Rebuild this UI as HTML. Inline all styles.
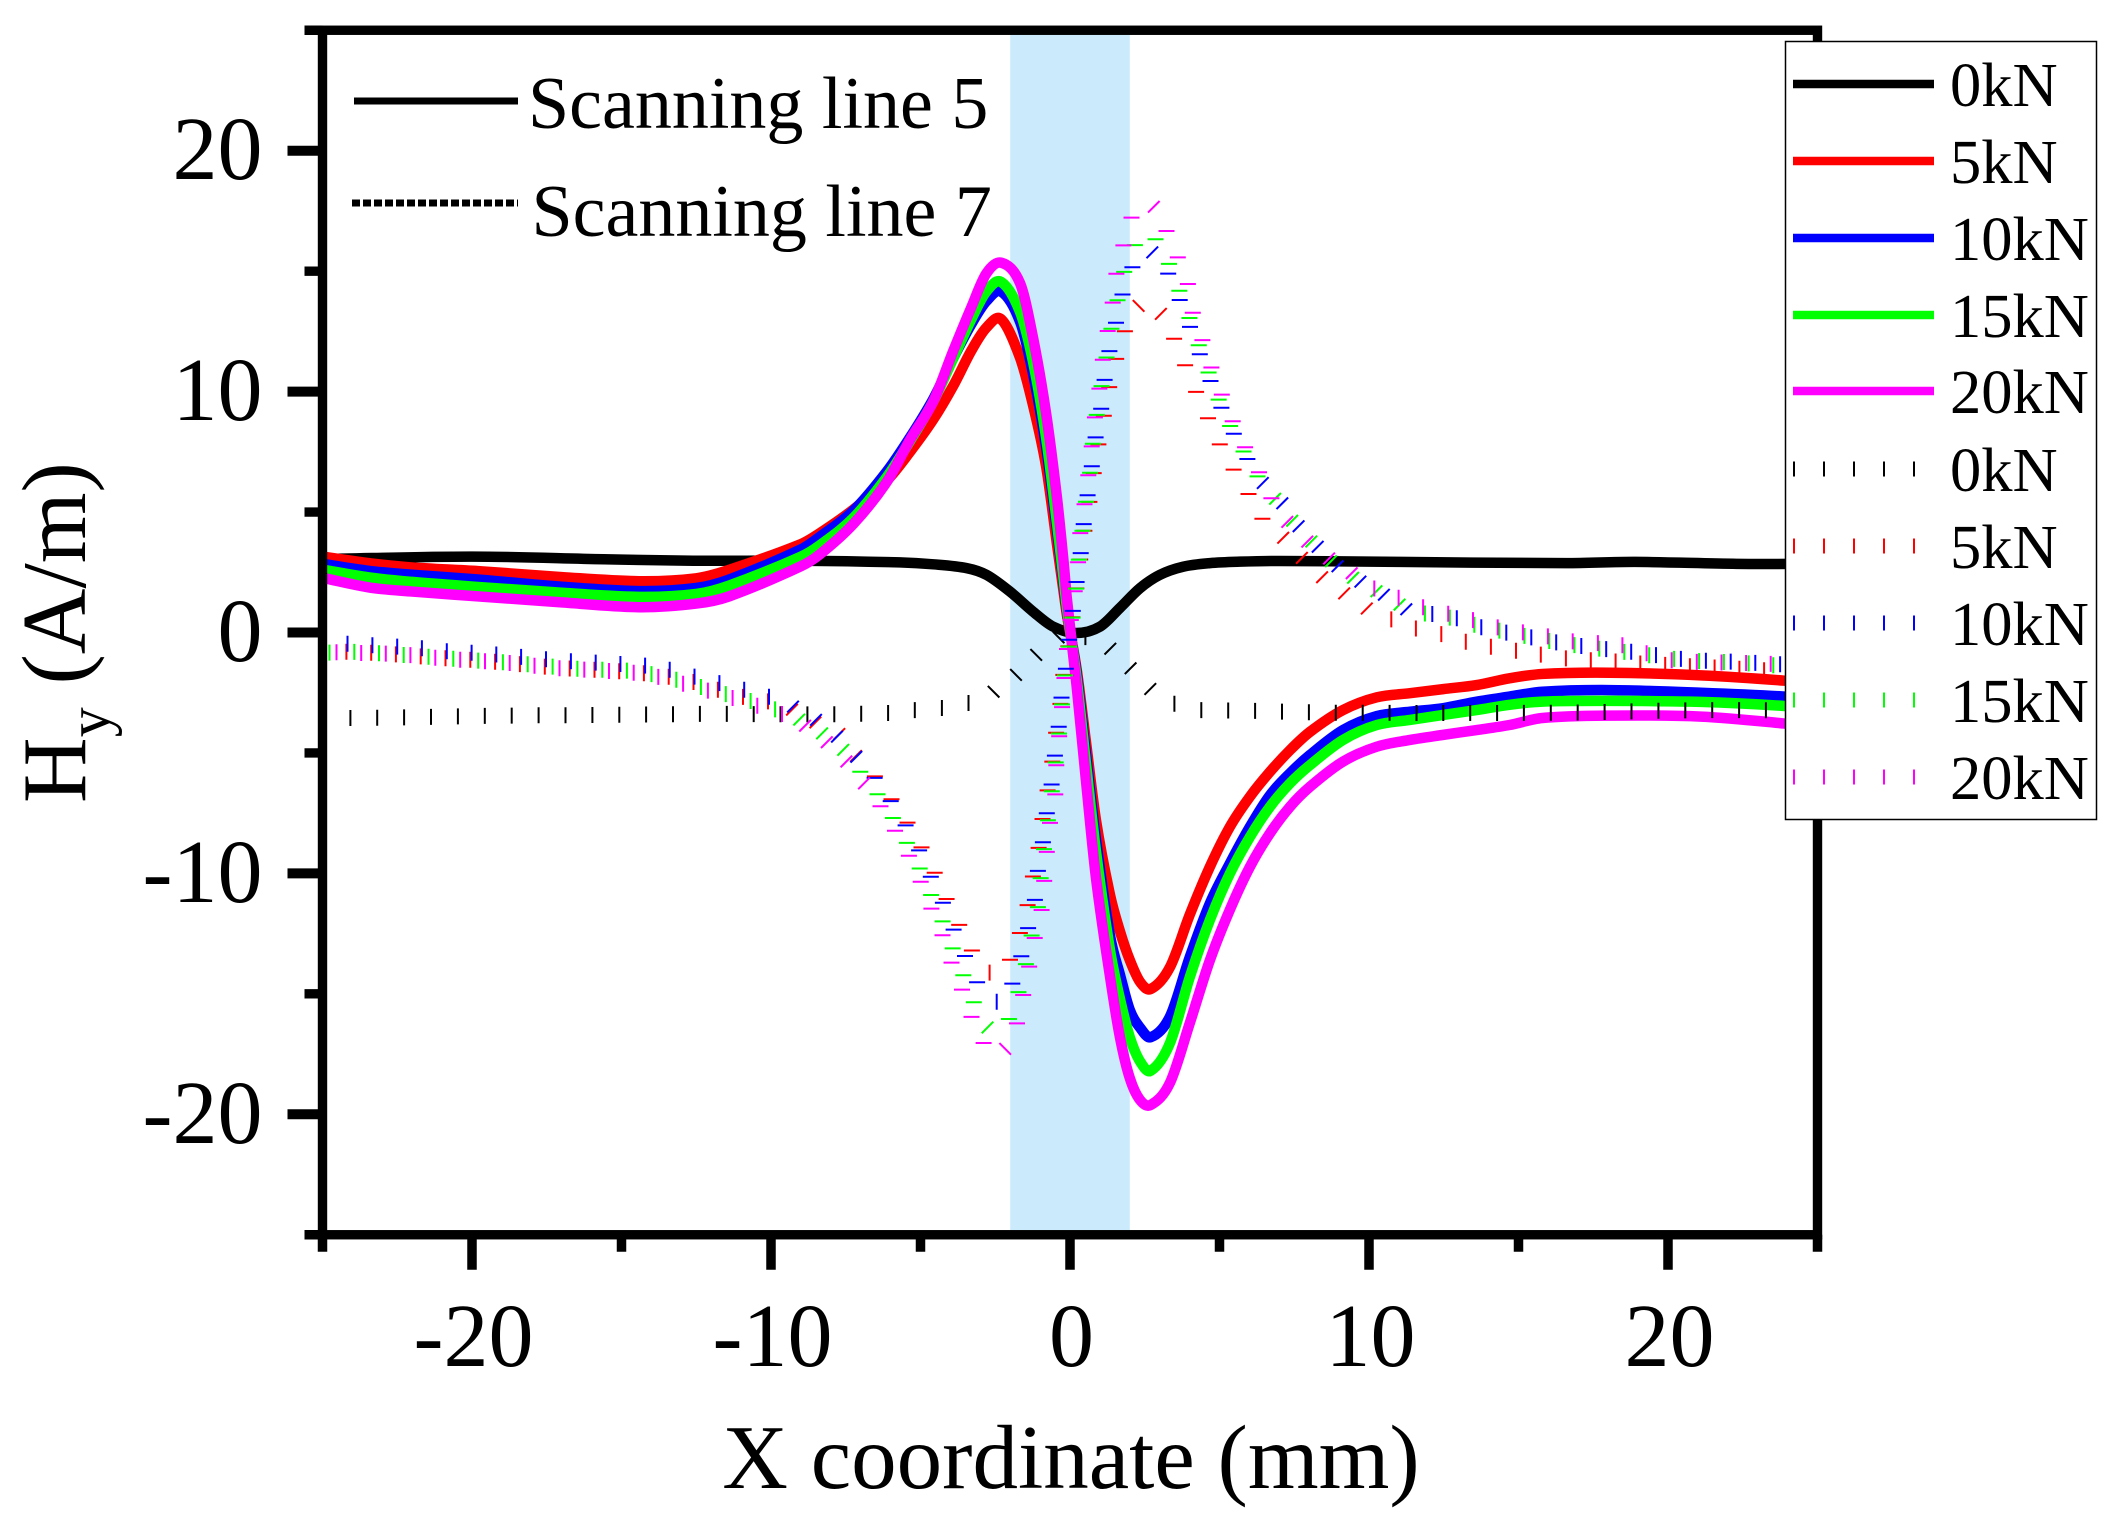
<!DOCTYPE html>
<html lang="en">
<head>
<meta charset="utf-8">
<title>Hy versus X coordinate</title>
<style>
html,body{margin:0;padding:0;background:#fff;}
svg{display:block;position:absolute;left:0;top:0;}
text{font-family:"Liberation Serif","Times New Roman",serif;fill:#000;}
</style>
</head>
<body>
<svg id="chart" xmlns="http://www.w3.org/2000/svg" width="2121" height="1528" viewBox="0 0 2121 1528">
  <rect x="0" y="0" width="2121" height="1528" fill="#fff"/>
  <g id="band"></g>
  <g id="solid"></g>
  <g id="dashed"></g>
  <g id="axes"></g>
  <text x="1071" y="1488" font-size="91" text-anchor="middle">X coordinate (mm)</text>
  <text transform="translate(85,803) rotate(-90)" font-size="91">H<tspan font-size="60" dy="24">y</tspan><tspan dy="-24"> (A/m)</tspan></text>
  <g>
    <line x1="354" y1="101" x2="518" y2="101" stroke="#000" stroke-width="7"/>
    <text x="528" y="128" font-size="74">Scanning line 5</text>
    <line x1="352" y1="203" x2="518" y2="203" stroke="#000" stroke-width="7" stroke-dasharray="8 3"/>
    <text x="531.5" y="236" font-size="74">Scanning line 7</text>
  </g>
  <g>
    <rect x="1785.5" y="41.5" width="311" height="778" fill="#fff" stroke="#000" stroke-width="1.5"/>
    <line x1="1793" y1="84" x2="1934" y2="84" stroke="#000" stroke-width="8.5"/>
    <text x="1950" y="106" font-size="62.5">0kN</text>
    <line x1="1793" y1="161" x2="1934" y2="161" stroke="#ff0000" stroke-width="8.5"/>
    <text x="1950" y="183" font-size="62.5">5kN</text>
    <line x1="1793" y1="238" x2="1934" y2="238" stroke="#0000ff" stroke-width="8.5"/>
    <text x="1950" y="260" font-size="62.5">10kN</text>
    <line x1="1793" y1="315" x2="1934" y2="315" stroke="#00ff00" stroke-width="8.5"/>
    <text x="1950" y="337" font-size="62.5">15kN</text>
    <line x1="1793" y1="391" x2="1934" y2="391" stroke="#ff00ff" stroke-width="8.5"/>
    <text x="1950" y="413" font-size="62.5">20kN</text>
    <line x1="1793" y1="469" x2="1934" y2="469" stroke="#000" stroke-width="15" stroke-dasharray="2 28"/>
    <text x="1950" y="491" font-size="62.5">0kN</text>
    <line x1="1793" y1="546" x2="1934" y2="546" stroke="#ff0000" stroke-width="15" stroke-dasharray="2 28"/>
    <text x="1950" y="568" font-size="62.5">5kN</text>
    <line x1="1793" y1="623" x2="1934" y2="623" stroke="#0000ff" stroke-width="15" stroke-dasharray="2 28"/>
    <text x="1950" y="645" font-size="62.5">10kN</text>
    <line x1="1793" y1="700" x2="1934" y2="700" stroke="#00ff00" stroke-width="15" stroke-dasharray="2 28"/>
    <text x="1950" y="722" font-size="62.5">15kN</text>
    <line x1="1793" y1="777" x2="1934" y2="777" stroke="#ff00ff" stroke-width="15" stroke-dasharray="2 28"/>
    <text x="1950" y="799" font-size="62.5">20kN</text>
  </g>
</svg>
<script>
// ---- Axis ticks ----
const xMajorTicks = [-20, -10, 0, 10, 20];
const xMinorTicks = [-25, -15, -5, 5, 15, 25];
const yMajorTicks = [-20, -10, 0, 10, 20];
const yMinorTicks = [-25, -15, -5, 5, 15, 25];
const xTickLabels = ["-20", "-10", "0", "10", "20"];
const yTickLabels = ["-20", "-10", "0", "10", "20"];
const bandRange = [-2, 2];

// ---- Scanning line 5 (solid) ----
const line5Load0X = [-25,-20,-15.6,-12.6,-9,-5.69,-4.57,-3.45,-2.79,-2,-1.23,-0.56,0.22,1,1.67,2.34,3,3.78,4.68,5.69,7,11,16.6,18.9,22.3,25];
const line5Load0 = [3.05,3.15,3.04,2.98,2.98,2.91,2.83,2.67,2.39,1.69,0.86,0.24,-0.02,0.24,1.02,1.84,2.39,2.73,2.88,2.94,2.97,2.93,2.88,2.93,2.85,2.85];
const line5X = [-25,-23.4,-22,-19.8,-17,-14.4,-12.5,-11.4,-9,-8.36,-7.25,-6.13,-5.35,-4.57,-3.9,-3.3,-2.8,-2.3,-1.67,-1.23,-0.8,-0.44,-0.22,-0.1,0.22,0.53,0.87,1.34,1.67,2,2.34,2.7,3.34,4.01,4.68,5.35,6.02,6.69,7.36,8.03,9.13,10.26,11.37,12.48,13.6,14.7,15.8,18.06,21.1,23.9,25];
const line5Load5 = [3.15,2.87,2.7,2.55,2.3,2.13,2.25,2.6,3.67,4.13,5.1,6.3,7.5,8.85,10.25,11.7,12.65,13,11.4,9.4,6.9,3.7,1.75,0.7,-1.5,-4.5,-7.8,-10.9,-12.4,-13.6,-14.5,-14.8,-13.9,-11.7,-9.72,-8.06,-6.81,-5.78,-4.88,-4.12,-3.22,-2.69,-2.52,-2.35,-2.18,-1.9,-1.72,-1.67,-1.78,-2,-2.15];
const line5Load10 = [2.85,2.55,2.4,2.2,1.9,1.72,1.85,2.2,3.45,3.98,5.05,6.68,8.1,9.7,11.4,12.8,13.75,14.15,12.9,10.7,7.7,4.3,2.1,0.9,-1.7,-5,-8.6,-12.6,-14.2,-15.67,-16.4,-16.8,-15.95,-13.46,-11.24,-9.58,-8.06,-6.75,-5.84,-5.08,-4.05,-3.47,-3.29,-3.14,-2.87,-2.66,-2.46,-2.39,-2.5,-2.66,-2.8];
const line5Load15 = [2.61,2.28,2.1,1.89,1.65,1.48,1.6,1.95,3.15,3.63,4.75,6.45,7.95,9.6,11.4,13,14.15,14.55,13.3,11.2,8.1,4.6,2.3,1,-1.9,-5.4,-9.1,-13.2,-15.2,-16.8,-17.8,-18.19,-17.05,-14.29,-11.93,-10,-8.48,-7.23,-6.26,-5.5,-4.46,-3.84,-3.63,-3.42,-3.22,-3,-2.87,-2.84,-2.88,-3.05,-3.2];
const line5Load20 = [2.27,1.86,1.7,1.5,1.25,1.05,1.2,1.5,2.75,3.25,4.5,6.25,8,9.6,11.7,13.5,14.9,15.35,14.5,12.2,9.1,5.64,3,1.35,-2.2,-6.1,-10.2,-14.3,-16.8,-18.5,-19.4,-19.61,-18.7,-16.2,-13.6,-11.5,-9.72,-8.33,-7.23,-6.4,-5.36,-4.74,-4.46,-4.25,-4.05,-3.84,-3.55,-3.45,-3.49,-3.78,-3.95];

// ---- Scanning line 7 (dashed) ----
const line7Load0X = [-25,-24.05,-22.14,-18.8,-15.28,-12.17,-8.26,-7.26,-6.45,-5.72,-5.05,-4.25,-3.51,-2.84,-2.24,-1.77,-1.24,-0.7,-0.07,0.7,1.27,1.87,2.36,2.93,3.48,4.18,4.71,5.65,6.39,7.31,9.06,16.19,21.39,25];
const line7Load0 = [-3.55,-3.55,-3.52,-3.45,-3.42,-3.38,-3.4,-3.38,-3.35,-3.32,-3.2,-3.13,-2.97,-2.65,-2.2,-1.72,-1.06,-0.46,-0.06,-0.27,-0.6,-1.27,-1.97,-2.58,-2.95,-3.2,-3.22,-3.25,-3.26,-3.29,-3.33,-3.33,-3.22,-3.25];

const line7Load5X = [-25,-24.18,-23.24,-20.97,-19.33,-17.16,-15.48,-13.98,-12.54,-11.2,-9.73,-9.1,-8.41,-7.73,-7.29,-6.8,-6.35,-5.89,-5.43,-5.02,-4.63,-4.26,-3.91,-3.55,-3.18,-2.64,-2.07,-1.71,-1.45,-1.27,-1.07,-0.94,-0.77,-0.61,-0.48,-0.33,-0.24,-0.07,0.33,0.47,0.64,0.74,0.89,1.07,1.24,1.44,1.71,1.97,2.47,3.07,3.48,3.78,4.08,4.41,4.74,5.08,5.48,5.75,6.19,6.52,7.25,7.76,8.23,8.79,9.35,9.92,10.48,11.16,11.74,12.43,13.11,13.78,14.46,15.23,16.62,18.18,19.23,22.29,25];
const line7Load5 = [-0.7,-0.8,-0.85,-1.06,-1.2,-1.46,-1.58,-1.73,-2.07,-2.6,-2.97,-3.33,-3.8,-4.2,-4.95,-5.56,-6.26,-7.06,-7.9,-8.8,-9.7,-10.7,-11.65,-12.5,-13.42,-14.14,-13.72,-12.6,-11.5,-10.3,-9.1,-7.9,-6.7,-5.5,-4.3,-3.07,-1.9,-0.73,2.93,4.13,5.35,6.18,7.4,8.57,9.74,10.9,12,12.94,13.7,13.18,12.2,11.3,10.4,9.43,8.57,7.63,6.74,6.16,5.33,4.56,3.8,3.09,2.5,1.97,1.47,1,0.68,0.35,0.1,-0.07,-0.34,-0.52,-0.68,-0.81,-1.08,-1.2,-1.3,-1.5,-1.7];

const line7Load10X = [-25,-24.28,-23.48,-21.81,-20.97,-19.3,-17.27,-15.6,-13.85,-12.41,-10.97,-9.93,-9.26,-8.66,-8.06,-7.53,-7.02,-6.52,-6.05,-5.6,-5.18,-4.85,-4.52,-4.35,-4.05,-3.68,-3.38,-2.98,-2.44,-1.94,-1.62,-1.4,-1.17,-1.07,-0.9,-0.77,-0.61,-0.5,-0.37,-0.28,-0.13,-0.02,0.23,0.37,0.47,0.6,0.74,0.87,1.06,1.17,1.34,1.56,1.77,2.06,2.54,3.1,3.44,3.81,4.07,4.35,4.65,4.95,5.28,5.59,5.99,6.44,7.12,7.47,8.49,9.06,9.62,10.19,10.75,11.32,12.78,13.58,15.62,16.41,17.88,19.13,20.6,22.29,25];
const line7Load10 = [-0.31,-0.45,-0.52,-0.64,-0.77,-0.9,-1.14,-1.27,-1.43,-1.88,-2.35,-2.72,-3.08,-3.5,-4,-4.67,-5.33,-6.06,-6.9,-7.8,-8.7,-9.6,-10.5,-10.9,-11.9,-12.9,-13.83,-14.76,-15.33,-14.6,-13.4,-12.27,-11.06,-9.86,-8.65,-7.44,-6.25,-5.04,-3.84,-2.64,-1.43,-0.22,2.2,3.42,4.63,5.8,7,8.2,9.4,10.6,11.82,12.97,14.1,15.1,15.85,15.33,14.44,13.38,12.48,11.52,10.6,9.66,8.75,7.99,7.08,6.22,5.33,4.67,3.3,2.63,2.18,1.78,1.39,0.93,0.65,0.27,-0.25,-0.44,-0.68,-0.85,-1.12,-1.22,-1.4];

const line7Load15X = [-25,-24.08,-21.75,-20.1,-18.56,-16.34,-14.65,-13.28,-11.94,-10.54,-9.16,-8.56,-7.96,-7.36,-6.96,-6.49,-6.02,-5.6,-5.22,-4.88,-4.55,-4.29,-3.99,-3.71,-3.41,-3.08,-2.62,-2.07,-1.74,-1.5,-1.3,-1.08,-0.98,-0.87,-0.74,-0.61,-0.48,-0.37,-0.27,-0.17,-0.03,0.2,0.3,0.42,0.54,0.67,0.77,0.9,1.06,1.23,1.39,1.6,1.81,2.07,2.6,3.11,3.44,3.71,3.98,4.24,4.52,4.82,5.15,5.45,5.65,6.04,6.45,7.12,7.46,8.49,9.06,9.63,10.2,10.77,11.3,12.78,13.58,15.62,16.42,17.89,19.13,20.6,22.3,25];
const line7Load15 = [-0.85,-0.8,-0.98,-1.14,-1.27,-1.52,-1.6,-1.93,-2.41,-2.9,-3.55,-4,-4.46,-5.17,-5.87,-6.62,-7.5,-8.4,-9.3,-10.2,-11.18,-11.9,-12.9,-13.76,-14.76,-15.7,-16.54,-16.1,-15,-13.9,-12.66,-11.44,-10.2,-9,-7.8,-6.6,-5.4,-4.2,-3,-1.8,-0.6,1.85,3.05,4.25,5.5,6.62,7.87,9.07,10.27,11.45,12.64,13.85,14.96,15.88,16.58,15.84,14.9,14,13.1,12.14,11.23,10.1,9.2,8.3,7.85,7,6.12,5.2,4.6,3.25,2.6,2.15,1.75,1.38,0.95,0.6,0.3,-0.25,-0.44,-0.7,-0.9,-1.15,-1.25,-1.5];

const line7Load20X = [-25,-24.15,-22.44,-20.8,-18.9,-17.22,-15.65,-14.21,-12.78,-11.44,-10.03,-9.2,-8.66,-8.06,-7.59,-7.09,-6.59,-6.15,-5.75,-5.35,-5.02,-4.72,-4.45,-4.16,-3.91,-3.62,-3.31,-3.01,-2.37,-1.84,-1.62,-1.41,-1.25,-0.98,-0.84,-0.7,-0.5,-0.47,-0.38,-0.28,-0.2,-0.11,0.26,0.33,0.47,0.54,0.67,0.77,0.89,1.06,1.14,1.39,1.47,1.67,1.9,2.17,2.77,3.18,3.48,3.9,4.04,4.28,4.55,4.78,5.07,5.48,5.85,6.24,6.58,7.36,8.6,9.28,9.73,10.4,11.09,11.77,13.24,14.48,16.07,16.98,18.45,19.8,20.6,23.38,25];
const line7Load20 = [-0.8,-0.84,-0.9,-1.1,-1.25,-1.47,-1.58,-1.73,-2.18,-2.66,-3.22,-3.6,-4.05,-4.63,-5.2,-5.95,-6.75,-7.58,-8.46,-9.36,-10.27,-11.2,-12.04,-12.9,-13.9,-14.8,-15.9,-16.84,-17.5,-16.5,-15.33,-14.2,-13,-11.8,-10,-8.14,-6.95,-5.74,-4.52,-3.32,-2.1,-0.8,2.75,3.96,5.17,5.87,7.08,8.28,9.48,10.73,11.93,13.14,14.34,15.47,16.6,17.5,17.7,16.8,15.88,14.76,13.6,12.64,11.73,10.8,9.9,8.66,7.7,6.87,5.9,4.46,3.13,2.63,2.07,1.73,1.39,1.06,0.6,0.16,-0.18,-0.4,-0.52,-1.08,-1.2,-1.3,-1.45];

// ---- Axis functions ----
const xScale = v => 1070 + v * 29.9;
const yScale = v => 632.5 - v * 24.09;

const SVGNS = "http://www.w3.org/2000/svg";
function make(tag, attrs, parent) {
  const el = document.createElementNS(SVGNS, tag);
  for (const k in attrs) el.setAttribute(k, attrs[k]);
  parent.appendChild(el);
  return el;
}

// Smooth Hermite curve through the data points, in pixel space
function curvePath(xs, ys) {
  const px = xs.map(xScale), py = ys.map(yScale), n = px.length;
  const slope = i => {
    const a = Math.max(0, i - 1), b = Math.min(n - 1, i + 1);
    return (py[b] - py[a]) / (px[b] - px[a]);
  };
  let d = "M" + px[0].toFixed(2) + " " + py[0].toFixed(2);
  for (let i = 0; i < n - 1; i++) {
    const h = (px[i + 1] - px[i]) / 3;
    d += "C" + (px[i] + h).toFixed(2) + " " + (py[i] + slope(i) * h).toFixed(2) + " " +
         (px[i + 1] - h).toFixed(2) + " " + (py[i + 1] - slope(i + 1) * h).toFixed(2) + " " +
         px[i + 1].toFixed(2) + " " + py[i + 1].toFixed(2);
  }
  return d;
}

// Thin marks across the curve, snapped to vertical / diagonal / horizontal
function dashMarks(d, parent, offset, flatFactor) {
  const probe = make("path", { d: d, fill: "none", stroke: "none" }, parent);
  const total = probe.getTotalLength();
  const period = 29.2, half = 8, diag = 5.8;
  let out = "";
  let s = offset;
  while (s <= total) {
    const p = probe.getPointAtLength(s);
    const q = probe.getPointAtLength(Math.min(total, s + 6));
    const r = probe.getPointAtLength(Math.max(0, s - 6));
    const dx = q.x - r.x, dy = q.y - r.y;
    const rad = Math.abs(Math.atan2(dy, dx));
    const ang = rad * 180 / Math.PI;
    if (ang < 24) {
      out += "M" + p.x.toFixed(1) + " " + (p.y - half).toFixed(1) + "V" + (p.y + half).toFixed(1);
    } else if (ang > 52) {
      out += "M" + (p.x - half).toFixed(1) + " " + p.y.toFixed(1) + "H" + (p.x + half).toFixed(1);
    } else if (dy < 0) {
      out += "M" + (p.x - diag).toFixed(1) + " " + (p.y - diag).toFixed(1) + "L" + (p.x + diag).toFixed(1) + " " + (p.y + diag).toFixed(1);
    } else {
      out += "M" + (p.x - diag).toFixed(1) + " " + (p.y + diag).toFixed(1) + "L" + (p.x + diag).toFixed(1) + " " + (p.y - diag).toFixed(1);
    }
    s += period * (flatFactor + (1 - flatFactor) * Math.sin(rad));
  }
  parent.removeChild(probe);
  return out;
}

// ---- Shaded band ----
const bandGroup = document.getElementById("band");
const bandRect = make("rect", { x: xScale(bandRange[0]), y: yScale(25), width: xScale(bandRange[1]) - xScale(bandRange[0]), height: yScale(-25) - yScale(25), fill: "#cbebfd" }, bandGroup);



// ---- Solid series ----
const solidGroup = document.getElementById("solid");
const solidAttrs = { fill: "none", "stroke-width": 10.5, "stroke-linejoin": "round", "stroke-linecap": "butt" };

const solid0 = make("path", Object.assign({ d: curvePath(line5Load0X, line5Load0), stroke: "#000000" }, solidAttrs), solidGroup);


const solid5 = make("path", Object.assign({ d: curvePath(line5X, line5Load5), stroke: "#ff0000" }, solidAttrs), solidGroup);


const solid10 = make("path", Object.assign({ d: curvePath(line5X, line5Load10), stroke: "#0000ff" }, solidAttrs), solidGroup);


const solid15 = make("path", Object.assign({ d: curvePath(line5X, line5Load15), stroke: "#00ff00" }, solidAttrs), solidGroup);


const solid20 = make("path", Object.assign({ d: curvePath(line5X, line5Load20), stroke: "#ff00ff" }, solidAttrs), solidGroup);



// ---- Dashed series ----
const dashedGroup = document.getElementById("dashed");
const dashAttrs = { fill: "none", "stroke-width": 2 };

const dash0 = make("path", Object.assign({ d: dashMarks(curvePath(line7Load0X, line7Load0), dashedGroup, 1, 0.92), stroke: "#000000" }, dashAttrs), dashedGroup);


const dash5 = make("path", Object.assign({ d: dashMarks(curvePath(line7Load5X, line7Load5), dashedGroup, 24, 0.84), stroke: "#ff0000" }, dashAttrs), dashedGroup);


const dash10 = make("path", Object.assign({ d: dashMarks(curvePath(line7Load10X, line7Load10), dashedGroup, 0, 0.84), stroke: "#0000ff" }, dashAttrs), dashedGroup);


const dash15 = make("path", Object.assign({ d: dashMarks(curvePath(line7Load15X, line7Load15), dashedGroup, 7, 0.84), stroke: "#00ff00" }, dashAttrs), dashedGroup);


const dash20 = make("path", Object.assign({ d: dashMarks(curvePath(line7Load20X, line7Load20), dashedGroup, 14, 0.84), stroke: "#ff00ff" }, dashAttrs), dashedGroup);



// ---- Axes ----
const axesGroup = document.getElementById("axes");
const frame = make("rect", { x: xScale(-25), y: yScale(25), width: xScale(25) - xScale(-25), height: yScale(-25) - yScale(25), fill: "none", stroke: "#000", "stroke-width": 9.4 }, axesGroup);



xMajorTicks.forEach((v, i) => {
  const t = make("line", { x1: xScale(v), x2: xScale(v), y1: yScale(-25), y2: yScale(-25) + 35, stroke: "#000", "stroke-width": 9.5 }, axesGroup);
  
  
  const l = make("text", { x: xScale(v) + 1.5, y: 1366, "font-size": 90, "text-anchor": "middle" }, axesGroup);
  l.textContent = xTickLabels[i];
  
  
});
xMinorTicks.forEach(v => {
  const t = make("line", { x1: xScale(v), x2: xScale(v), y1: yScale(-25), y2: yScale(-25) + 17, stroke: "#000", "stroke-width": 9.5 }, axesGroup);
  
  
});
yMajorTicks.forEach((v, i) => {
  const t = make("line", { x1: xScale(-25), x2: xScale(-25) - 35, y1: yScale(v), y2: yScale(v), stroke: "#000", "stroke-width": 10 }, axesGroup);
  
  
  const l = make("text", { x: 262.5, y: yScale(v) + 28.5, "font-size": 90, "text-anchor": "end" }, axesGroup);
  l.textContent = yTickLabels[i];
  
  
});
yMinorTicks.forEach(v => {
  const t = make("line", { x1: xScale(-25), x2: xScale(-25) - 18, y1: yScale(v), y2: yScale(v), stroke: "#000", "stroke-width": 9.4 }, axesGroup);
  
  
});
</script>
</body>
</html>
